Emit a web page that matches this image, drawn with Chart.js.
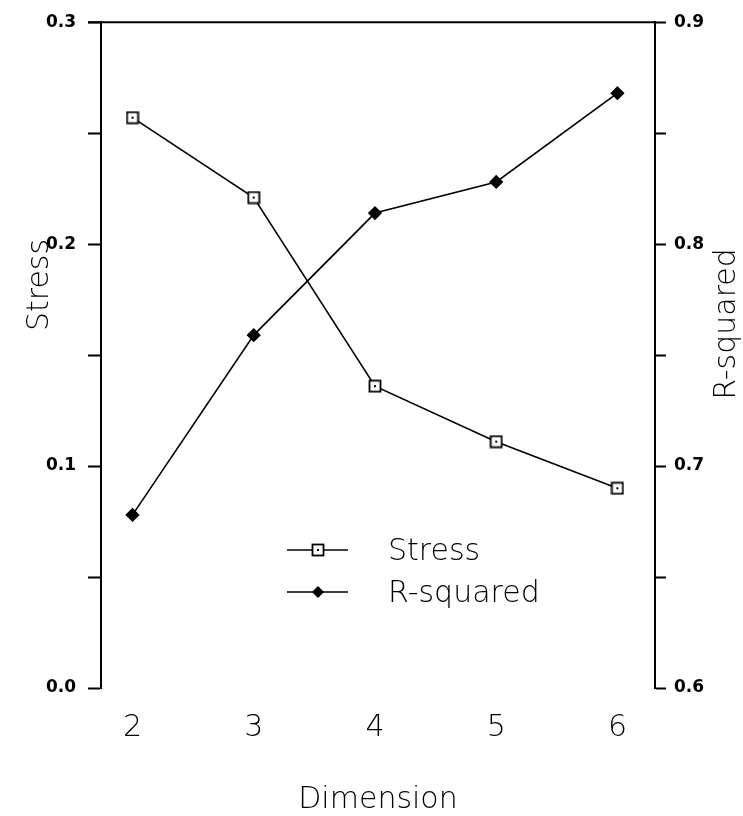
<!DOCTYPE html>
<html>
<head>
<meta charset="utf-8">
<script src="https://cdn.jsdelivr.net/npm/chart.js@4.4.1/dist/chart.umd.min.js"></script>
<style>
  html, body { margin: 0; padding: 0; background: #fff; }
  #wrap { width: 743px; height: 816px; position: relative; }
</style>
</head>
<body>
<div id="wrap"><canvas id="grafico"></canvas></div>
<script>
const dimensions = [2, 3, 4, 5, 6];
const stress = [0.257, 0.221, 0.136, 0.111, 0.090];
const rSquared = [0.678, 0.759, 0.814, 0.828, 0.868];
const dimTicks = [2, 3, 4, 5, 6];

const thinFont = "'DejaVu Sans', sans-serif";
const thinWeight = 200;
const tickFont = { family: "'DejaVu Sans', sans-serif", size: 17, weight: "bold" };

// open square with a dot in the middle, like the original marker
function squareMarker() {
    const c = document.createElement("canvas");
    c.width = 14;
    c.height = 14;
    const g = c.getContext("2d");
    g.fillStyle = "#fff";
    g.fillRect(1, 1, 12, 12);
    g.strokeStyle = "#000";
    g.lineWidth = 1.8;
    g.strokeRect(1.5, 1.5, 11, 11);
    g.fillStyle = "#000";
    g.fillRect(6, 6, 2, 2);
    return c;
}
const sqMark = squareMarker();

const frameAndText = {
    id: "frameAndText",
    afterDraw(chart) {
        const { ctx, chartArea } = chart;
        ctx.save();
        // top line, running past the left axis like the 0.3 tick
        ctx.strokeStyle = "#000";
        ctx.lineWidth = 2;
        ctx.beginPath();
        ctx.moveTo(88, chartArea.top);
        ctx.lineTo(chartArea.right, chartArea.top);
        ctx.stroke();

        // y titles
        ctx.fillStyle = "#000";
        ctx.font = thinWeight + " 30px " + thinFont;
        ctx.textAlign = "center";
        ctx.textBaseline = "middle";
        ctx.save();
        ctx.translate(40, 285);
        ctx.rotate(-Math.PI / 2);
        ctx.fillText("Stress", 0, 0);
        ctx.restore();
        ctx.save();
        ctx.translate(727, 324);
        ctx.rotate(-Math.PI / 2);
        ctx.fillText("R-squared", 0, 0);
        ctx.restore();

        // legend
        const rows = [
            { y: 550, ds: chart.data.datasets[0] },
            { y: 592, ds: chart.data.datasets[1] },
        ];
        rows.forEach((r) => {
            ctx.strokeStyle = "#000";
            ctx.lineWidth = 1.6;
            ctx.beginPath();
            ctx.moveTo(287, r.y);
            ctx.lineTo(348, r.y);
            ctx.stroke();
            if (r.ds.pointStyle === "rectRot") {
                ctx.fillStyle = "#000";
                ctx.beginPath();
                ctx.moveTo(318, r.y - 6);
                ctx.lineTo(324, r.y);
                ctx.lineTo(318, r.y + 6);
                ctx.lineTo(312, r.y);
                ctx.closePath();
                ctx.fill();
            } else {
                ctx.drawImage(sqMark, 311, r.y - 7);
            }
            ctx.fillStyle = "#000";
            ctx.font = thinWeight + " 30px " + thinFont;
            ctx.textAlign = "left";
            ctx.textBaseline = "middle";
            ctx.fillText(r.ds.label, 388, r.y + 2);
        });
        ctx.restore();
    },
};

function tenths(v) {
    return Math.abs(v * 10 - Math.round(v * 10)) < 1e-6 ? v.toFixed(1) : "";
}

const info = {
    datasets: [
        {
            label: "Stress",
            data: dimensions.map((d, i) => ({ x: d, y: stress[i] })),
            yAxisID: "y",
            borderColor: "#000",
            borderWidth: 1.6,
            pointStyle: sqMark,
            pointRadius: 7,
        },
        {
            label: "R-squared",
            data: dimensions.map((d, i) => ({ x: d, y: rSquared[i] })),
            yAxisID: "y2",
            borderColor: "#000",
            backgroundColor: "#000",
            borderWidth: 1.6,
            pointStyle: "rectRot",
            pointRadius: 6,
        },
    ],
};

const options = {
    responsive: true,
    maintainAspectRatio: false,
    animation: false,
    layout: { padding: { top: 15, left: 0, right: 0, bottom: 0 } },
    plugins: {
        legend: { display: false },
        tooltip: { enabled: false },
    },
    scales: {
        x: {
            type: "linear",
            min: 1.74,
            max: 6.31,
            afterBuildTicks: (s) => { s.ticks = dimTicks.map((v) => ({ value: v })); },
            afterFit: (s) => { s.height = 128; },
            ticks: {
                color: "#000",
                padding: 14,
                font: { family: thinFont, size: 30, weight: thinWeight },
            },
            grid: { display: false },
            border: { display: false },
            title: {
                display: true,
                text: "Dimension",
                color: "#000",
                font: { family: thinFont, size: 30, weight: thinWeight },
                padding: { top: 0, bottom: -2 },
            },
        },
        y: {
            position: "left",
            min: 0,
            max: 0.3,
            afterFit: (s) => { s.width = 101; },
            ticks: {
                stepSize: 0.05,
                color: "#000",
                padding: 12,
                font: tickFont,
                callback: tenths,
            },
            grid: { drawOnChartArea: false, color: "#000", tickLength: 13, tickWidth: 2 },
            border: { color: "#000", width: 2 },
        },
        y2: {
            position: "right",
            min: 0.6,
            max: 0.9,
            afterFit: (s) => { s.width = 88; },
            ticks: {
                stepSize: 0.05,
                color: "#000",
                padding: 8,
                font: tickFont,
                callback: tenths,
            },
            grid: { drawOnChartArea: false, color: "#000", tickLength: 11, tickWidth: 2 },
            border: { color: "#000", width: 2 },
        },
    },
};

new Chart(document.getElementById("grafico"), {
    type: "line",
    data: info,
    options,
    plugins: [frameAndText],
});
</script>
</body>
</html>
